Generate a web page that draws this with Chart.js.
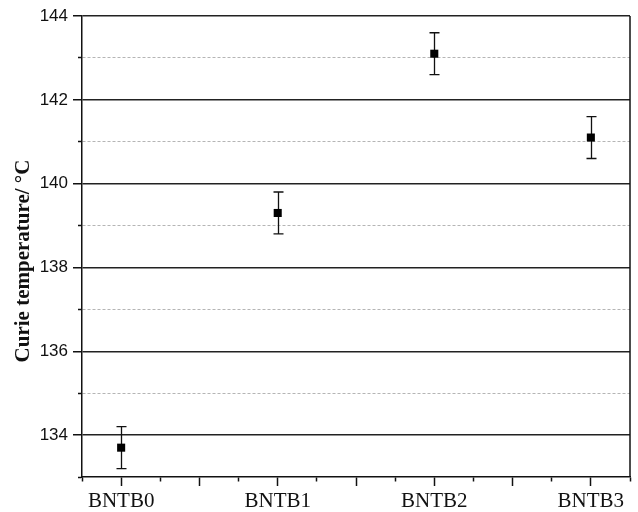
<!DOCTYPE html>
<html>
<head>
<meta charset="utf-8">
<script src="https://cdn.jsdelivr.net/npm/chart.js@4.4.1/dist/chart.umd.min.js"></script>
<style>
  html, body { margin: 0; padding: 0; background: #fff; }
  #wrap { width: 638px; height: 512px; }
</style>
</head>
<body>
<div id="wrap"><canvas id="chart" width="638" height="512"></canvas></div>
<script>
// samples along the x axis
const samples = ['BNTB0', 'BNTB1', 'BNTB2', 'BNTB3'];
// Curie temperature (°C) and its error (±)
const curieTemp = [133.7, 139.3, 143.1, 141.1];
const curieErr = [0.5, 0.5, 0.5, 0.5];
// y axis range
const yMin = 133;
const yMax = 144;

const points = samples.map((s, i) => ({ x: i, y: curieTemp[i] }));

const isMajorY = (v) => Math.abs(v % 2) < 1e-6;
const isMajorX = (v) => Math.abs((v * 2) - Math.round(v * 2)) < 1e-6;

// vertical error bars with caps, drawn under the markers
const errorBars = {
  id: 'errorBars',
  beforeDatasetsDraw(chart) {
    const { ctx, scales: { x, y } } = chart;
    ctx.save();
    ctx.strokeStyle = '#111';
    ctx.lineWidth = 1.3;
    points.forEach((p, i) => {
      const px = Math.round(x.getPixelForValue(p.x)) + 0.5;
      const top = y.getPixelForValue(p.y + curieErr[i]);
      const bot = y.getPixelForValue(p.y - curieErr[i]);
      ctx.beginPath();
      ctx.moveTo(px, top); ctx.lineTo(px, bot);
      ctx.moveTo(px - 5, top); ctx.lineTo(px + 5, top);
      ctx.moveTo(px - 5, bot); ctx.lineTo(px + 5, bot);
      ctx.stroke();
    });
    ctx.restore();
  }
};

// right frame line and the rotated y title
const frame = {
  id: 'frame',
  afterDraw(chart) {
    const { ctx, chartArea: a } = chart;
    ctx.save();
    ctx.strokeStyle = '#111';
    ctx.lineWidth = 1.5;
    ctx.beginPath();
    ctx.moveTo(a.right, a.top);
    ctx.lineTo(a.right, a.bottom);
    ctx.stroke();

    ctx.translate(24, 261);
    ctx.rotate(-Math.PI / 2);
    ctx.fillStyle = '#111';
    ctx.font = 'bold 21px "Liberation Serif", "Times New Roman", serif';
    ctx.textAlign = 'center';
    ctx.textBaseline = 'middle';
    ctx.fillText('Curie temperature/ \u00B0C', 0, 0);
    ctx.restore();
  }
};

new Chart(document.getElementById('chart'), {
  type: 'scatter',
  data: {
    datasets: [{
      data: points,
      pointStyle: 'rect',
      pointRadius: 5.7,
      pointHoverRadius: 5.7,
      backgroundColor: '#000',
      borderColor: '#000',
      borderWidth: 0
    }]
  },
  plugins: [errorBars, frame],
  options: {
    responsive: false,
    animation: false,
    events: [],
    layout: { padding: { top: 16, right: 8, left: 0, bottom: 0 } },
    plugins: { legend: { display: false }, tooltip: { enabled: false } },
    scales: {
      x: {
        type: 'linear',
        min: -0.25,
        max: 3.25,
        afterFit(scale) { scale.height = 35; },
        afterBuildTicks(scale) {
          scale.ticks = [];
          for (let k = -1; k <= 13; k++) scale.ticks.push({ value: k * 0.25 });
        },
        ticks: {
          autoSkip: false,
          maxRotation: 0,
          padding: 3,
          color: '#111',
          font: { family: '"Liberation Serif", "Times New Roman", serif', size: 21 },
          callback(v) {
            const i = Math.round(v);
            return Math.abs(v - i) < 1e-6 && samples[i] ? samples[i] : '';
          }
        },
        grid: {
          drawOnChartArea: false,
          drawTicks: true,
          tickLength: 9,
          tickColor: '#111',
          tickWidth: 1.5,
          tickBorderDash: (c) => (c.tick && !isMajorX(c.tick.value)) ? [4, 100] : []
        },
        border: { color: '#111', width: 1.5 }
      },
      y: {
        min: yMin,
        max: yMax,
        afterFit(scale) { scale.width = 82; },
        ticks: {
          stepSize: 1,
          padding: 5,
          color: '#111',
          font: { family: '"Liberation Sans", Arial, sans-serif', size: 17 },
          callback: (v) => (isMajorY(v) ? String(v) : '')
        },
        grid: {
          drawTicks: true,
          tickLength: 9,
          tickColor: '#111',
          tickWidth: 1.5,
          color: (c) => {
            if (!c.tick) return '#111';
            if (c.tick.value === yMin) return 'rgba(0,0,0,0)';
            return isMajorY(c.tick.value) ? '#222' : '#b5b5b5';
          },
          lineWidth: (c) => (c.tick && isMajorY(c.tick.value) ? 1.5 : 1),
          tickBorderDash: (c) => (c.tick && !isMajorY(c.tick.value)) ? [0, 5, 9] : []
        },
        border: {
          color: '#111',
          width: 1.5,
          dash: (c) => (c.tick && !isMajorY(c.tick.value)) ? [3, 2] : []
        }
      }
    }
  }
});
</script>
</body>
</html>
